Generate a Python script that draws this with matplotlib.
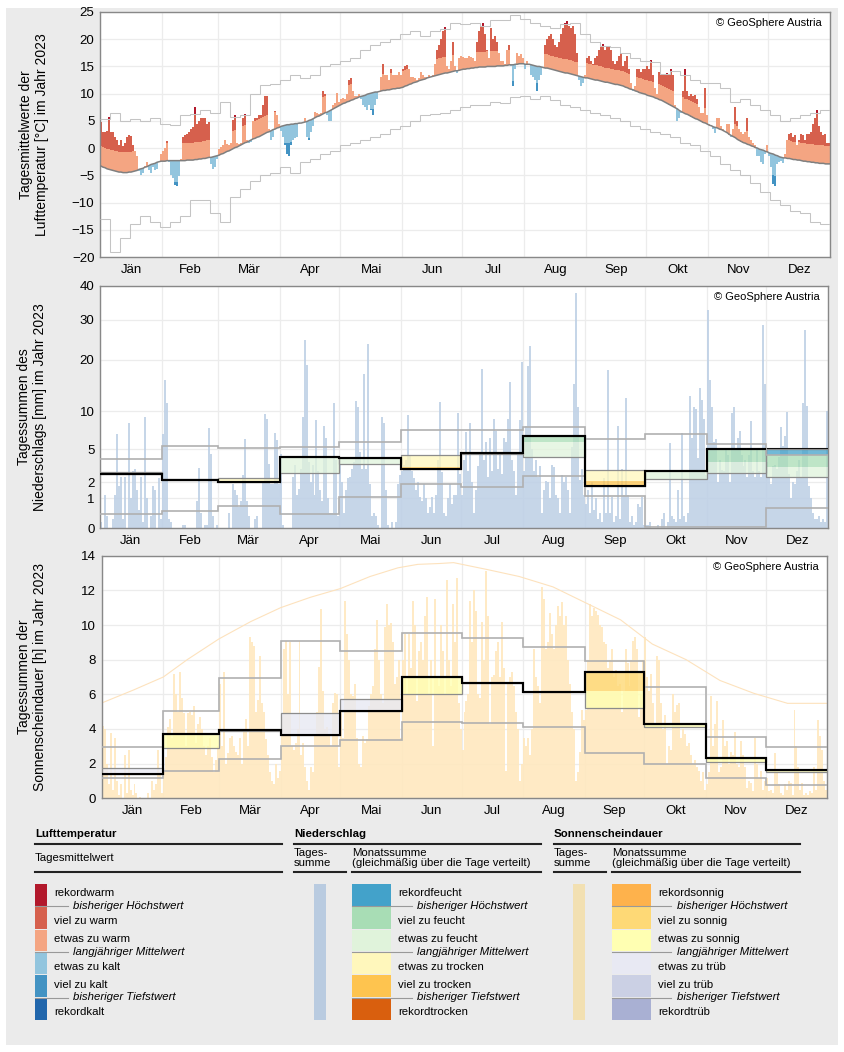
import numpy as np
import matplotlib
matplotlib.use("Agg")
import matplotlib.pyplot as plt
from matplotlib.patches import Rectangle

plt.rcParams['font.family'] = ['Liberation Sans', 'DejaVu Sans']

W, H = 845, 1052

months = ["Jän", "Feb", "Mär", "Apr", "Mai", "Jun", "Jul", "Aug", "Sep", "Okt", "Nov", "Dez"]
month_start = np.array([0, 31, 59, 90, 120, 151, 181, 212, 243, 273, 304, 334, 365])
month_len = np.diff(month_start)

# ---------------- Lufttemperatur (Tagesmittel, °C) ----------------
temp_day = [
    4.8, 3.0, 3.0, 3.2, 5.8, 3.0, 3.0, 2.0, 1.5, 0.5, 1.5, 0.3, 1.0, 2.0, 2.5, 2.2, 0.5, -0.5, -1.5, -4.2, -5.0, -4.5, -3.2, -2.5, -4.0, -4.6, -3.5, -4.0, -3.8, -2.6, -1.0,
    -0.5, 0.0, 1.3, -2.5, -5.0, -5.5, -6.8, -7.0, -5.2, -2.0, 2.0, 2.5, 2.5, 3.0, 3.5, 3.8, 7.6, 4.5, 5.0, 5.5, 5.5, 5.5, 4.5, 4.8, -3.0, -3.8, -3.5, -2.0,
    -0.2, 0.2, 0.5, 1.4, 0.8, 0.5, 1.0, 5.2, 6.1, 1.0, 0.8, 1.0, 5.5, 6.2, 1.5, 1.0, 1.2, 5.0, 5.5, 5.5, 6.0, 6.0, 8.0, 9.5, 9.5, 3.5, 1.5, 2.0, 6.8, 6.0, 4.5,
    3.2, 2.0, 0.5, -1.0, -1.5, 0.5, 1.5, 1.8, 2.0, 4.5, 4.6, 4.8, 5.5, 2.0, 1.5, 3.0, 4.0, 6.6, 6.5, 6.2, 6.5, 10.5, 10.0, 6.0, 5.0, 5.0, 8.0, 8.2, 10.2, 8.5,
    9.0, 9.2, 9.0, 10.0, 12.5, 12.8, 10.5, 9.6, 9.5, 10.0, 9.0, 8.0, 7.5, 7.0, 8.0, 7.0, 6.0, 8.0, 9.0, 10.5, 13.0, 15.5, 13.5, 13.5, 12.5, 14.5, 13.5, 13.5, 13.5, 14.0, 13.5,
    14.5, 15.0, 15.2, 14.5, 13.0, 13.0, 12.8, 12.5, 12.8, 14.0, 13.5, 13.0, 13.0, 13.5, 13.0, 13.5, 15.5, 18.0, 19.0, 20.0, 21.5, 22.3, 15.0, 14.5, 16.0, 19.5, 15.0, 13.8, 16.5, 17.0,
    16.8, 16.5, 16.5, 17.0, 16.8, 16.5, 16.0, 19.5, 21.5, 22.5, 23.0, 21.0, 18.0, 16.5, 22.0, 20.0, 20.5, 19.5, 17.5, 16.0, 16.0, 15.5, 18.0, 19.0, 15.0, 11.5, 14.5, 17.5, 17.0, 17.2, 16.5,
    14.5, 16.0, 15.5, 13.5, 13.0, 12.5, 10.5, 12.5, 13.5, 14.8, 19.0, 20.0, 20.5, 21.0, 20.0, 19.0, 18.5, 19.5, 21.0, 22.0, 23.0, 23.3, 22.5, 22.0, 22.5, 21.0, 17.5, 12.5, 11.5, 12.0, 13.5,
    16.5, 17.0, 16.0, 15.5, 16.5, 17.0, 18.0, 18.5, 19.2, 18.0, 18.5, 18.5, 18.0, 16.0, 15.5, 16.0, 17.0, 17.5, 15.0, 16.0, 17.0, 14.5, 12.0, 10.5, 11.5, 14.5, 14.5, 14.0, 14.5, 14.5,
    15.0, 14.5, 16.2, 13.5, 11.0, 10.0, 14.0, 13.4, 13.5, 13.5, 13.8, 13.5, 14.5, 13.5, 8.0, 5.0, 5.5, 6.5, 10.5, 14.5, 10.5, 9.5, 10.0, 9.5, 9.8, 9.0, 7.5, 6.5, 6.5, 11.0, 6.0,
    4.5, 4.0, 3.5, 2.8, 5.5, 5.5, 4.0, 3.5, 3.0, 4.5, 4.5, 2.0, 3.5, 7.5, 5.0, 3.5, 3.0, 2.5, 3.0, 5.5, 2.0, 1.5, 1.0, 0.5, -1.5, -1.5, -2.5, -3.0, -1.0, 0.5,
    -1.5, -3.5, -6.5, -7.0, -3.0, -2.5, -2.3, -2.8, -1.0, 1.5, 2.5, 2.8, 2.0, 2.5, 0.5, 1.5, 2.5, 2.5, 1.5, 2.5, 2.5, 3.0, 4.5, 5.5, 7.0, 4.0, 3.0, 2.5, 2.5, 1.0, 1.0,
]

# langjähriger Mittelwert (Tag für Tag)
temp_clim = [
    -3.3, -3.5, -3.6, -3.8, -3.9, -4.0, -4.1, -4.2, -4.3, -4.4, -4.4, -4.5, -4.5, -4.5, -4.4, -4.4, -4.3, -4.2, -4.1, -3.9, -3.8, -3.7, -3.5, -3.4, -3.2, -3.0, -2.9, -2.8, -2.6, -2.5, -2.4,
    -2.4, -2.4, -2.3, -2.3, -2.3, -2.3, -2.3, -2.3, -2.3, -2.3, -2.3, -2.3, -2.2, -2.2, -2.2, -2.2, -2.1, -2.1, -2.0, -2.0, -1.9, -1.9, -1.8, -1.7, -1.7, -1.6, -1.5, -1.4,
    -1.3, -1.1, -1.0, -0.8, -0.6, -0.5, -0.3, -0.1, 0.1, 0.2, 0.4, 0.6, 0.8, 1.0, 1.1, 1.3, 1.5, 1.7, 1.8, 2.0, 2.1, 2.3, 2.5, 2.7, 2.9, 3.0, 3.2, 3.4, 3.5, 3.7, 3.8,
    4.0, 4.1, 4.2, 4.3, 4.3, 4.4, 4.4, 4.5, 4.5, 4.6, 4.6, 4.7, 4.8, 4.9, 5.1, 5.2, 5.4, 5.6, 5.8, 5.9, 6.1, 6.3, 6.5, 6.6, 6.8, 7.0, 7.2, 7.4, 7.6, 7.8,
    8.0, 8.2, 8.3, 8.5, 8.6, 8.8, 8.9, 9.1, 9.2, 9.4, 9.5, 9.6, 9.7, 9.9, 10.0, 10.1, 10.2, 10.3, 10.3, 10.4, 10.5, 10.6, 10.6, 10.7, 10.7, 10.8, 10.9, 10.9, 11.0, 11.0, 11.1,
    11.2, 11.4, 11.5, 11.7, 11.8, 12.0, 12.1, 12.2, 12.4, 12.5, 12.6, 12.7, 12.9, 13.0, 13.1, 13.2, 13.3, 13.4, 13.5, 13.6, 13.7, 13.8, 13.8, 13.9, 14.0, 14.1, 14.2, 14.2, 14.3, 14.4,
    14.5, 14.5, 14.6, 14.6, 14.7, 14.7, 14.8, 14.8, 14.9, 14.9, 14.9, 14.9, 15.0, 15.0, 15.0, 15.0, 15.0, 15.1, 15.1, 15.1, 15.1, 15.2, 15.2, 15.3, 15.3, 15.3, 15.4, 15.4, 15.5, 15.5, 15.5,
    15.4, 15.4, 15.4, 15.3, 15.2, 15.1, 15.0, 15.0, 14.9, 14.8, 14.7, 14.7, 14.6, 14.5, 14.4, 14.3, 14.2, 14.1, 14.0, 13.9, 13.8, 13.8, 13.7, 13.6, 13.5, 13.4, 13.3, 13.2, 13.1, 13.0, 12.9,
    12.9, 12.8, 12.7, 12.6, 12.5, 12.5, 12.4, 12.3, 12.2, 12.1, 12.1, 12.0, 11.9, 11.8, 11.7, 11.7, 11.6, 11.5, 11.4, 11.2, 11.1, 10.9, 10.8, 10.7, 10.5, 10.4, 10.2, 10.1, 10.0, 9.9,
    9.7, 9.6, 9.5, 9.4, 9.2, 9.1, 8.9, 8.8, 8.6, 8.4, 8.2, 8.0, 7.8, 7.6, 7.4, 7.2, 6.9, 6.7, 6.5, 6.3, 6.2, 6.0, 5.8, 5.6, 5.4, 5.3, 5.1, 4.9, 4.7, 4.6, 4.4,
    4.2, 4.1, 3.9, 3.8, 3.7, 3.5, 3.4, 3.2, 3.0, 2.8, 2.5, 2.3, 2.1, 1.9, 1.6, 1.4, 1.2, 1.0, 0.9, 0.7, 0.6, 0.4, 0.3, 0.1, 0.0, -0.2, -0.3, -0.4, -0.6, -0.7,
    -0.9, -1.0, -1.1, -1.3, -1.4, -1.6, -1.7, -1.8, -1.8, -1.9, -1.9, -2.0, -2.1, -2.1, -2.2, -2.2, -2.3, -2.4, -2.4, -2.5, -2.5, -2.6, -2.6, -2.7, -2.7, -2.8, -2.8, -2.8, -2.9, -2.9, -2.9,
]

# bisheriger Höchst- / Tiefstwert, in 5-Tages-Stufen
rec_hi = [5.3, 6.5, 5.0, 5.3, 5.0, 5.5, 4.5, 4.3, 6.0, 6.3, 7.0, 6.5, 8.5, 5.8, 6.0, 10.0, 11.5, 11.8, 12.5, 13.5,
          12.8, 13.5, 15.0, 15.5, 16.0, 16.5, 18.0, 19.0, 19.5, 20.0, 21.0, 21.5, 20.5, 21.5, 21.8, 23.0, 22.8, 23.0, 22.4, 23.5,
          23.5, 24.5, 23.8, 23.0, 22.5, 22.0, 22.8, 23.0, 21.0, 19.5, 18.8, 18.5, 17.5, 16.5, 16.0, 15.8, 13.6, 14.2, 13.5, 12.5,
          12.0, 12.0, 11.0, 8.5, 9.0, 8.0, 7.0, 6.0, 5.0, 5.5, 6.0, 6.5, 7.0]
rec_lo = [-13.0, -19.0, -16.5, -14.0, -12.5, -13.5, -14.5, -13.5, -12.5, -9.5, -9.5, -12.0, -13.5, -9.0, -7.5, -6.0, -5.0, -4.5, -3.5, -4.5,
          -2.5, -2.0, -1.0, -0.5, 0.5, 1.0, 1.5, 2.0, 2.5, 3.5, 4.0, 5.0, 6.0, 6.3, 6.5, 7.0, 7.5, 8.0, 8.0, 8.5,
          8.3, 9.3, 9.5, 9.0, 9.5, 8.8, 8.0, 7.5, 7.0, 6.5, 6.0, 5.5, 5.0, 4.0, 3.5, 3.0, 2.5, 2.0, 1.0, 0.5,
          -0.5, -1.5, -3.0, -4.0, -5.0, -6.5, -8.0, -9.5, -10.5, -11.5, -12.0, -13.5, -14.0]
# Grenze "viel zu warm"/"viel zu kalt" relativ zum Mittel, je Monat
warm_off = [3.7, 3.2, 3.2, 3.0, 3.0, 3.0, 2.8, 2.5, 2.7, 2.8, 2.5, 3.3]
cold_off = [-4.0, -4.0, -3.5, -3.3, -3.0, -3.0, -3.0, -3.0, -3.0, -3.0, -3.5, -3.8]

# ---------------- Niederschlag (mm) ----------------
prec_day = [
    0.2, 0, 1.2, 0.4, 0, 0, 0.3, 1.2, 7.0, 1.8, 2.5, 0.3, 2.5, 0, 8.5, 1.0, 3.0, 3.2, 1.5, 0.6, 2.5, 0.2, 9.3, 1.0, 0, 0.4, 1.8, 1.5, 0, 2.4, 0.3,
    7.0, 16.0, 11.5, 0.3, 0.2, 0, 0, 0, 0, 0, 0.1, 0.1, 0, 0, 0, 0, 0, 0.9, 3.3, 0.5, 0, 0.1, 0.1, 7.8, 4.6, 0.4, 0, 0.1,
    0, 0, 0, 0, 0, 0.5, 0, 1.9, 1.5, 1.2, 0.7, 0.9, 2.7, 6.3, 0.9, 0.4, 0, 0, 0.3, 0.4, 0, 0, 2.1, 9.6, 9.0, 3.7, 1.9, 1.9, 7.2, 6.2, 1.9,
    4.6, 0.1, 0, 0, 0, 0, 2.5, 3.6, 1.2, 1.6, 3.2, 9.3, 25.0, 19.0, 3.9, 2.0, 3.6, 1.2, 8.9, 3.0, 1.5, 0.9, 8.0, 6.5, 1.0, 0.5, 0.5, 11.6, 4.0, 0.4,
    3.6, 2.0, 0.5, 1.5, 2.4, 2.5, 3.2, 3.9, 12.0, 10.8, 4.8, 3.2, 17.2, 3.2, 24.0, 1.9, 0.4, 0.5, 0.4, 0.1, 0, 9.3, 8.5, 1.5, 0.1, 0, 0.2, 0, 0.2, 1.9, 2.7,
    3.0, 3.6, 4.0, 9.5, 4.5, 3.0, 2.4, 1.5, 2.0, 1.1, 0.9, 1.9, 1.0, 0.5, 0.7, 1.1, 0.5, 1.2, 4.0, 11.8, 2.9, 0.5, 0.4, 1.0, 1.9, 0.8, 1.2, 1.2, 9.7, 2.8,
    1.2, 4.0, 7.3, 3.0, 8.4, 2.0, 0.5, 1.5, 3.5, 4.6, 18.2, 4.0, 6.0, 2.5, 6.5, 3.0, 9.0, 7.4, 3.2, 4.5, 2.8, 6.5, 6.0, 9.0, 15.7, 4.0, 3.0, 1.2, 4.5, 8.8, 19.5,
    3.0, 8.0, 18.7, 23.3, 5.0, 3.0, 4.0, 2.5, 3.5, 0.5, 1.5, 2.1, 2.0, 1.0, 3.6, 3.4, 1.2, 1.0, 0.5, 2.7, 2.0, 2.5, 1.5, 0.5, 5.3, 15.3, 38.0, 10.8, 2.2, 3.2, 1.2,
    0.8, 1.5, 0.5, 2.0, 0.6, 1.0, 0.3, 0.5, 0.2, 2.4, 0.5, 17.9, 0.5, 1.1, 0.2, 0.4, 8.0, 0.3, 3.2, 1.2, 12.5, 1.2, 0.2, 0.4, 0.1, 0.2, 0.8, 0.7, 1.1, 0.1,
    0.1, 0.1, 0.2, 0, 0, 0, 0.1, 0, 0.3, 0.5, 0, 0.2, 5.8, 0.4, 0.3, 0.2, 1.5, 0.3, 7.1, 0.4, 0.2, 0.5, 13.0, 6.5, 10.9, 10.5, 4.2, 14.5, 12.2, 9.0, 2.7,
    32.9, 16.0, 10.8, 6.0, 6.3, 2.0, 4.0, 3.1, 3.0, 5.0, 4.5, 2.0, 9.7, 10.8, 5.0, 6.5, 7.4, 4.5, 3.5, 4.0, 2.5, 4.5, 8.7, 3.0, 2.5, 5.0, 3.0, 2.5, 28.6, 15.3,
    3.9, 2.5, 1.9, 3.5, 3.6, 3.2, 4.3, 7.9, 5.5, 6.8, 9.9, 2.8, 1.0, 2.0, 1.9, 3.0, 4.0, 2.5, 11.5, 27.3, 11.0, 1.8, 1.0, 0.5, 0.3, 0.3, 0.4, 0.2, 0.3, 0.2, 10.1,
]
# Monatssumme gleichmäßig über die Tage verteilt (mm/Tag)
prec_month = [2.73, 2.21, 2.06, 4.33, 4.18, 3.18, 4.64, 6.78, 1.79, 3.06, 5.0, 5.0]
prec_mean = [2.97, 2.30, 2.36, 2.82, 3.64, 4.48, 4.55, 4.33, 3.12, 2.27, 2.88, 2.5]
prec_wet_thr = [4.0, 3.5, 3.5, 4.6, 5.0, 6.0, 6.0, 6.0, 4.5, 3.8, 3.88, 3.42]
prec_dry_thr = [1.8, 1.5, 1.5, 1.8, 2.4, 3.42, 3.0, 2.8, 2.09, 1.5, 1.8, 1.6]
prec_max = [4.12, 5.48, 5.13, 5.3, 6.0, 7.6, 7.5, 7.9, 6.35, 6.96, 5.65, 4.48]
prec_min = [0.47, 0.59, 0.73, 0.47, 1.06, 1.9, 1.73, 2.6, 1.14, 0.03, 0.03, 0.67]
prec_ticks = [0, 1, 2, 5, 10, 20, 30, 40]
prec_tick_pos = [0, 90, 138, 237, 352, 507, 627, 728]

# ---------------- Sonnenscheindauer (h) ----------------
sun_day = [
    4.2, 4.0, 2.0, 0.8, 3.75, 0.5, 3.5, 1.0, 0.2, 0.8, 0.0, 2.5, 0.3, 2.8, 0.5, 0.2, 0.8, 0.3, 0.0, 0.1, 0.0, 0.0, 0.0, 0.3, 0.0, 1.0, 0.5, 0.8, 2.8, 1.5, 0.3,
    1.5, 2.4, 4.1, 4.6, 3.5, 7.2, 6.0, 5.0, 7.3, 5.8, 4.9, 3.0, 4.9, 5.0, 4.8, 5.3, 3.2, 4.3, 4.7, 4.0, 3.0, 2.5, 3.0, 3.5, 2.4, 1.5, 2.2, 3.0,
    6.6, 3.0, 7.3, 2.0, 2.6, 3.5, 3.6, 3.0, 2.7, 2.5, 3.5, 2.0, 4.0, 4.6, 3.0, 9.3, 9.0, 8.8, 5.0, 5.7, 8.2, 5.5, 5.0, 3.4, 2.5, 1.5, 1.0, 0.8, 2.0, 1.2, 1.6,
    4.7, 8.6, 9.1, 6.0, 9.0, 3.0, 2.8, 3.2, 4.0, 9.1, 2.5, 3.2, 1.8, 1.0, 0.5, 1.8, 1.5, 3.6, 5.0, 7.6, 10.9, 6.2, 4.0, 4.1, 3.6, 3.0, 5.5, 6.1, 6.0, 1.8,
    5.0, 3.5, 11.4, 9.5, 8.0, 6.0, 5.9, 6.6, 3.5, 2.0, 1.8, 3.6, 3.2, 3.4, 5.3, 6.0, 6.5, 8.6, 10.3, 8.0, 6.0, 5.5, 9.9, 11.2, 10.0, 10.1, 9.0, 6.6, 7.0, 8.0, 3.5,
    8.0, 9.5, 6.0, 9.5, 7.5, 11.4, 10.0, 5.6, 8.5, 9.0, 8.0, 10.5, 11.6, 6.0, 8.0, 3.0, 11.5, 7.0, 6.5, 10.0, 8.5, 6.0, 12.6, 8.0, 6.5, 11.2, 9.0, 12.7, 5.5, 4.0,
    2.8, 5.0, 5.6, 6.0, 11.4, 9.0, 12.0, 10.8, 6.0, 5.8, 10.2, 8.0, 13.1, 10.5, 4.3, 7.0, 7.1, 8.5, 9.0, 7.0, 10.2, 7.5, 1.6, 6.6, 7.0, 7.3, 6.5, 5.0, 4.0, 1.0, 2.0,
    3.5, 3.0, 3.5, 2.5, 4.0, 8.6, 7.0, 6.5, 5.5, 12.2, 11.5, 8.6, 9.0, 10.7, 9.5, 8.6, 10.0, 11.1, 10.5, 11.3, 10.0, 10.5, 8.0, 6.6, 5.0, 4.0, 1.0, 1.5, 2.7, 5.1, 4.5,
    5.1, 8.0, 11.2, 10.5, 11.0, 10.8, 10.6, 10.0, 9.9, 9.0, 8.9, 7.5, 8.0, 8.6, 7.0, 7.4, 6.5, 6.6, 5.0, 6.2, 8.6, 7.8, 6.5, 8.0, 9.1, 9.3, 8.6, 4.7, 6.0, 8.0,
    9.3, 7.0, 6.2, 7.2, 5.5, 4.3, 8.2, 8.0, 5.5, 4.0, 4.8, 2.0, 3.0, 2.8, 6.0, 5.0, 5.4, 5.5, 3.5, 4.0, 3.7, 3.0, 3.2, 2.5, 2.0, 2.2, 1.8, 1.6, 1.0, 1.5, 0.5,
    0.8, 1.5, 5.9, 3.0, 4.3, 5.6, 1.5, 1.8, 4.5, 3.0, 3.3, 2.0, 2.7, 2.5, 3.8, 2.0, 1.8, 3.3, 2.5, 1.8, 0.6, 1.0, 0.9, 0.4, 3.5, 2.0, 1.2, 1.6, 0.5, 1.0,
    1.2, 0.4, 0.5, 0.3, 2.6, 1.5, 0.8, 0.3, 0.2, 0.8, 0.5, 1.0, 0.9, 0.2, 5.1, 3.0, 1.8, 0.5, 0.9, 0.2, 0.3, 0.2, 0.4, 0.3, 1.8, 0.5, 4.5, 3.6, 2.8, 1.0, 0.5,
]
sun_astro_day = [0, 16, 31, 43, 59, 75, 90, 105, 120, 135, 149, 159, 170, 177, 194, 210, 227, 244, 261, 277, 294, 311, 328, 345, 365]
sun_astro_val = [5.5, 6.25, 7.0, 8.0, 9.2, 10.2, 11.0, 11.6, 12.1, 12.8, 13.3, 13.5, 13.55, 13.6, 13.2, 12.8, 12.2, 11.25, 10.3, 8.9, 8.0, 6.8, 6.06, 5.48, 5.48]
sun_month = [1.38, 3.71, 3.94, 3.65, 5.06, 7.02, 6.67, 6.15, 7.31, 4.29, 2.31, 1.63]
sun_mean = [1.73, 2.88, 3.9, 4.9, 5.73, 6.0, 6.65, 6.15, 5.19, 4.1, 2.1, 1.54]
sun_hi_thr = [2.3, 4.0, 4.8, 5.8, 6.8, 7.5, 7.6, 7.5, 6.21, 5.0, 2.8, 2.2]
sun_lo_thr = [1.25, 2.2, 3.0, 3.5, 4.4, 5.0, 5.3, 5.0, 4.0, 3.0, 1.6, 1.1]
sun_max = [2.98, 5.04, 6.92, 9.08, 8.52, 9.52, 9.23, 8.75, 7.92, 6.44, 3.56, 2.94]
sun_min = [1.15, 1.58, 2.25, 3.02, 3.37, 4.42, 4.37, 4.13, 2.63, 1.96, 1.19, 0.77]

# Farben
col_temp = ["#b2182b", "#d6604d", "#f4a582", "#92c5de", "#4393c3", "#2166ac"]
col_prec = ["#43a2ca", "#a8ddb5", "#e0f3db", "#fff7bc", "#fec44f", "#d95f0e"]
col_sun = ["#feb24c", "#fed976", "#ffffb2", "#e8e9f3", "#cbd0e4", "#a9b0d3"]
prec_bar_col = "#bccfe5"
sun_bar_col = "#ffe8bf"
grid_col = "#ececec"
rec_col = "#b0b0b0"

labels_temp = ["rekordwarm", "viel zu warm", "etwas zu warm", "etwas zu kalt", "viel zu kalt", "rekordkalt"]
labels_prec = ["rekordfeucht", "viel zu feucht", "etwas zu feucht", "etwas zu trocken", "viel zu trocken", "rekordtrocken"]
labels_sun = ["rekordsonnig", "viel zu sonnig", "etwas zu sonnig", "etwas zu trüb", "viel zu trüb", "rekordtrüb"]


def box(l, t, r, b):
    return [l / W, 1 - b / H, (r - l) / W, (b - t) / H]


def style_axis(ax):
    ax.set_xlim(0, 365)
    ax.set_xticks(month_start)
    ax.set_xticklabels([])
    ax.set_xticks(month_start[:-1] + month_len / 2, minor=True)
    ax.set_xticklabels(months, minor=True, fontsize=9.5)
    ax.tick_params(which='both', length=0)
    ax.tick_params(axis='x', which='minor', pad=5)
    ax.tick_params(axis='y', labelsize=9.5, pad=4)
    ax.grid(True, which='major', color=grid_col, lw=0.9, zorder=0)
    ax.set_axisbelow(True)
    for s in ax.spines.values():
        s.set_color("#888888")
        s.set_linewidth(1.0)
    ax.text(0.988, 0.975, "© GeoSphere Austria", transform=ax.transAxes,
            ha='right', va='top', fontsize=8, zorder=10)


def month_bands(ax, val, mean, hi_thr, lo_thr, rmax, rmin, cols, alpha):
    x0 = month_start[:-1]
    val, mean = np.array(val), np.array(mean)
    hi_thr, lo_thr = np.array(hi_thr), np.array(lo_thr)
    rmax, rmin = np.array(rmax), np.array(rmin)

    def band(lo, hi, c):
        ok = hi > lo
        ax.bar(x0[ok], (hi - lo)[ok], bottom=lo[ok], width=month_len[ok], align='edge',
               color=c, alpha=alpha, lw=0, zorder=3)

    ax.stairs(val, month_start, baseline=None, color="black", lw=1.5, zorder=3)
    band(mean, np.minimum(val, hi_thr), cols[2])
    band(hi_thr, np.minimum(val, rmax), cols[1])
    band(rmax, val, cols[0])
    band(np.maximum(val, lo_thr), mean, cols[3])
    band(np.maximum(val, rmin), lo_thr, cols[4])
    band(val, rmin, cols[5])
    lo = np.minimum(val, mean)
    ax.bar(x0, np.abs(val - mean), bottom=lo, width=month_len, align='edge',
           fill=False, edgecolor="#8c8c8c", lw=0.9, zorder=4)
    ax.stairs(rmax, month_start, baseline=None, color=rec_col, lw=1.2, zorder=4)
    ax.stairs(rmin, month_start, baseline=None, color=rec_col, lw=1.2, zorder=4)
    over = val > rmax
    ax.stairs(np.where(over, np.nan, val), month_start, baseline=None, color="black", lw=1.5, zorder=5)


fig = plt.figure(figsize=(W / 100, H / 100), dpi=100)

# Hintergrund und Legende in Pixelkoordinaten
bg = fig.add_axes([0, 0, 1, 1], zorder=0)
bg.set_xlim(0, W)
bg.set_ylim(H, 0)
bg.axis('off')
bg.add_patch(Rectangle((6, 8), 832, 1037, color="#ebebeb", lw=0))

# ---------- Panel 1: Temperatur ----------
ax1 = fig.add_axes(box(100, 12, 830.5, 257), zorder=1)
days = np.arange(365)
t = np.array(temp_day)
m = np.array(temp_clim)
wthr = m + np.repeat(warm_off, month_len)
cthr = m + np.repeat(cold_off, month_len)
rhi = np.repeat(rec_hi, 5)
rlo = np.repeat(rec_lo, 5)


def tseg(lo, hi, c):
    ok = hi > lo
    ax1.bar(days[ok], (hi - lo)[ok], bottom=lo[ok], width=1.0, align='edge', color=c, lw=0, zorder=2)


tseg(m, np.minimum(t, wthr), col_temp[2])
tseg(wthr, np.minimum(t, rhi), col_temp[1])
tseg(np.maximum(rhi, m), t, col_temp[0])
tseg(np.maximum(t, cthr), m, col_temp[3])
tseg(np.maximum(t, rlo), cthr, col_temp[4])
tseg(t, np.minimum(rlo, m), col_temp[5])

edges5 = np.arange(0, 366, 5)
ax1.stairs(rec_hi, edges5, baseline=None, color="#c4c4c4", lw=0.75, zorder=3)
ax1.stairs(rec_lo, edges5, baseline=None, color="#c4c4c4", lw=0.75, zorder=3)
ax1.plot(days + 0.5, m, color="#7f7f7f", lw=1.1, zorder=4)
ax1.set_ylim(-20, 25)
ax1.set_yticks(np.arange(-20, 26, 5))
style_axis(ax1)

# ---------- Panel 2: Niederschlag ----------
ax2 = fig.add_axes(box(100, 286, 828.3, 528.3), zorder=1)


def p_fwd(x):
    return np.interp(x, prec_ticks, prec_tick_pos)


def p_inv(y):
    return np.interp(y, prec_tick_pos, prec_ticks)


ax2.set_yscale('function', functions=(p_fwd, p_inv))
ax2.bar(days, prec_day, width=1.0, align='edge', color=prec_bar_col, lw=0, alpha=0.85, zorder=2)
month_bands(ax2, prec_month, prec_mean, prec_wet_thr, prec_dry_thr, prec_max, prec_min, col_prec, 0.75)
ax2.set_ylim(0, 40)
ax2.set_yticks(prec_ticks)
ax2.set_yticklabels([str(v) for v in prec_ticks])
ax2.yaxis.set_minor_locator(matplotlib.ticker.NullLocator())
style_axis(ax2)

# ---------- Panel 3: Sonnenschein ----------
ax3 = fig.add_axes(box(101.7, 555.7, 827.3, 798.3), zorder=1)
ax3.bar(days, sun_day, width=1.0, align='edge', color=sun_bar_col, lw=0, alpha=0.9, zorder=2)
ax3.plot(sun_astro_day, sun_astro_val, color="#fde2bd", lw=0.8, zorder=2)
month_bands(ax3, sun_month, sun_mean, sun_hi_thr, sun_lo_thr, sun_max, sun_min, col_sun, 0.8)
ax3.set_ylim(0, 14)
ax3.set_yticks(np.arange(0, 15, 2))
style_axis(ax3)

# y-Beschriftungen
ylab = dict(rotation=90, ha='center', va='center', fontsize=10, linespacing=1.2, multialignment='center')
bg.text(34, 135, "Tagesmittelwerte der\nLufttemperatur [°C] im Jahr 2023", **ylab)
bg.text(32, 407, "Tagessummen des\nNiederschlags [mm] im Jahr 2023", **ylab)
bg.text(32, 677, "Tagessummen der\nSonnenscheindauer [h] im Jahr 2023", **ylab)

# ---------- Legende ----------
fs = 8.2
box_top = 884
box_h = 22.8


def header(x0, x1, title):
    bg.text(x0, 834, title, fontsize=8.2, fontweight='bold', va='center', ha='left')
    bg.plot([x0, x1], [844, 844], color="#222222", lw=1.5)


def subheader(x0, x1, txt):
    bg.text(x0, 858, txt, fontsize=fs, va='center', ha='left', linespacing=0.95)
    bg.plot([x0, x1], [872, 872], color="#222222", lw=1.5)


def swatches(x0, x1, cols, labels, lx, line_end, italic_x, italic_labels):
    for i, c in enumerate(cols):
        y0 = box_top + i * box_h
        bg.add_patch(Rectangle((x0, y0), x1 - x0, box_h - 1, color=c, lw=0))
    label_y = [893, 921, 939, 967, 985, 1012]
    for lab, y in zip(labels, label_y):
        bg.text(lx, y, lab, fontsize=fs, va='center', ha='left')
    for k, lab in zip([1, 3, 5], italic_labels):
        y = box_top + k * box_h - 0.5
        bg.plot([x0, line_end], [y, y], color="#999999", lw=0.8)
        bg.text(italic_x, y, lab, fontsize=fs, style='italic', va='center', ha='left')


italics = ["bisheriger Höchstwert", "langjähriger Mittelwert", "bisheriger Tiefstwert"]

header(35, 282, "Lufttemperatur")
subheader(35, 282, "Tagesmittelwert")
swatches(35, 47, col_temp, labels_temp, 54, 68, 73, italics)

header(294, 541, "Niederschlag")
subheader(294, 346, "Tages-\nsumme")
subheader(352, 541, "Monatssumme\n(gleichmäßig über die Tage verteilt)")
bg.add_patch(Rectangle((314, box_top), 12, 6 * box_h - 1, color="#b9cbe0", lw=0))
swatches(352, 391, col_prec, labels_prec, 398, 412, 417, italics)

header(554, 800, "Sonnenscheindauer")
subheader(554, 606, "Tages-\nsumme")
subheader(612, 800, "Monatssumme\n(gleichmäßig über die Tage verteilt)")
bg.add_patch(Rectangle((573, box_top), 12.5, 6 * box_h - 1, color="#f2e0b2", lw=0))
swatches(612, 651, col_sun, labels_sun, 658, 671, 677, italics)

fig.savefig("out.png", dpi=100)
